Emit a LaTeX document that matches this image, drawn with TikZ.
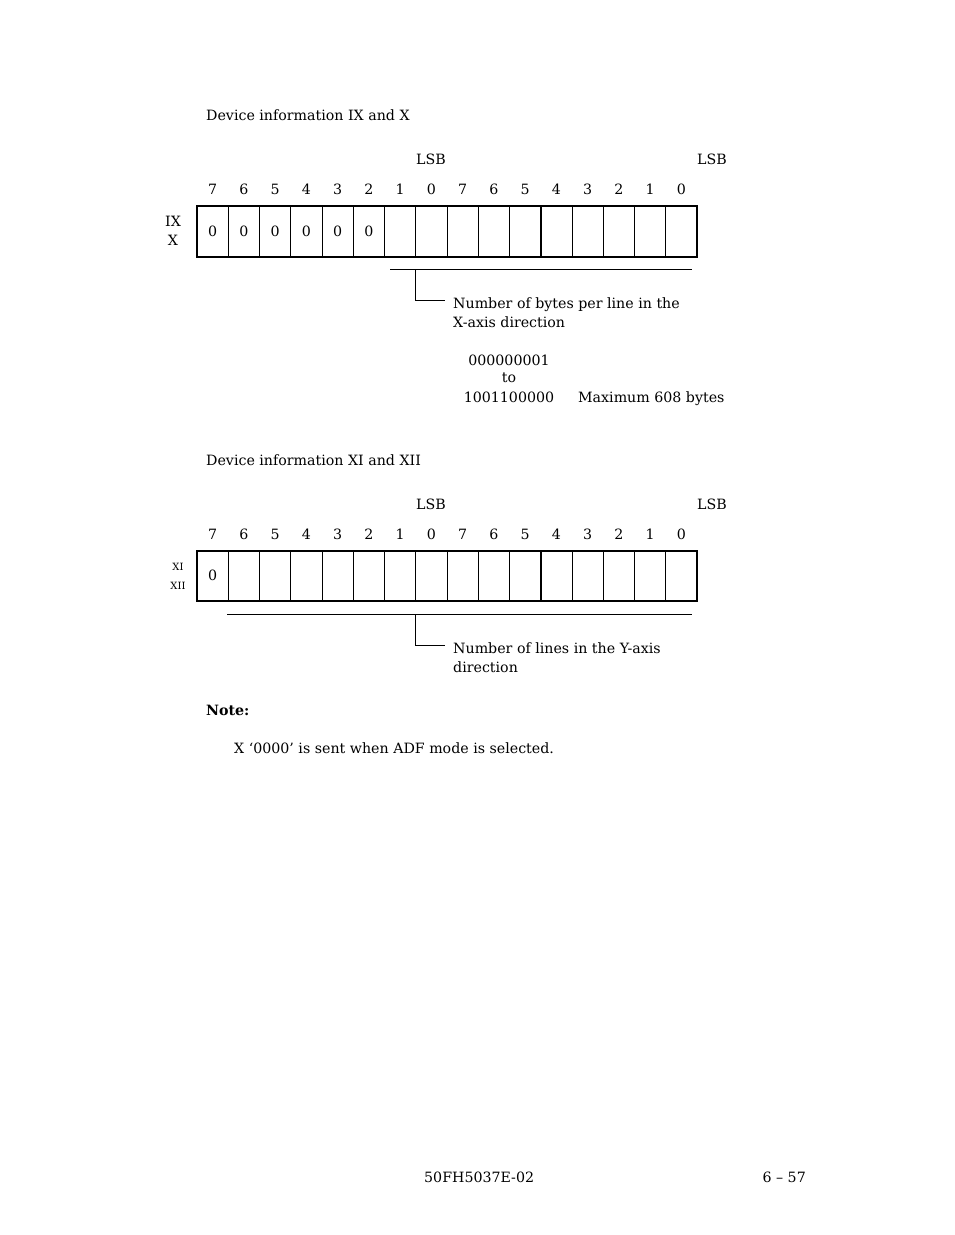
\documentclass[tikz,border=0pt]{standalone}
\usepackage{fontspec}
\setmainfont{DejaVu Serif}
\begin{document}
\begin{tikzpicture}[x=1pt,y=-1pt,
  txt/.style={inner sep=0pt, font=\fontsize{14.2}{17}\selectfont},
  lbl/.style={txt, anchor=base west},
  num/.style={txt, anchor=base},
  small/.style={inner sep=0pt, font=\fontsize{10}{12}\selectfont, anchor=base},
  frame/.style={line width=1.5pt},
  cellline/.style={line width=0.8pt},
  rule/.style={line width=0.8pt}]
\useasboundingbox (0,0) rectangle (954,1235);

% ---------- Section 1 ----------
\node[lbl] (t1) at (206,120) {Device information IX and X};
\node[txt, anchor=base] (lsb1a) at (431,164) {LSB};
\node[txt, anchor=base] (lsb1b) at (712,164) {LSB};
\foreach \b [count=\i from 0] in {7,6,5,4,3,2,1,0,7,6,5,4,3,2,1,0}
  \node[num] (ba\i) at (212.6+31.25*\i,194.5) {\b};
\node[num] (ix) at (173,226.5) {IX};
\node[num] (x) at (173,245.5) {X};
\foreach \i in {1,...,15}
  \draw[cellline] (197+31.25*\i,206) -- (197+31.25*\i,257);
\draw[frame] (540.75,206) -- (540.75,257);
\draw[frame] (197,206) rectangle (697,257);
\foreach \i in {0,...,5}
  \node[num] (za\i) at (212.6+31.25*\i,236.5) {0};

\coordinate (ra1) at (390,269);
\coordinate (ra2) at (692,269);
\coordinate (ta) at (415,269);
\draw[rule] (ra1) -- (ra2);
\node[lbl] (na1) at (453,308) {Number of bytes per line in the};
\node[lbl] (na2) at (453,327) {X-axis direction};
\coordinate (ea) at (445,300);
\draw[rule] (ta) |- (ea);

\node[txt, anchor=base] (r1) at (509,365) {000000001};
\node[txt, anchor=base] (r2) at (509,382) {to};
\node[txt, anchor=base] (r3) at (509,402) {1001100000};
\node[lbl] (mx) at (578,402) {Maximum 608 bytes};

% ---------- Section 2 ----------
\node[lbl] (t2) at (206,465) {Device information XI and XII};
\node[txt, anchor=base] (lsb2a) at (431,509) {LSB};
\node[txt, anchor=base] (lsb2b) at (712,509) {LSB};
\foreach \b [count=\i from 0] in {7,6,5,4,3,2,1,0,7,6,5,4,3,2,1,0}
  \node[num] (bb\i) at (212.6+31.25*\i,539.5) {\b};
\node[small] (xi) at (178,570) {XI};
\node[small] (xii) at (178,589) {XII};
\foreach \i in {1,...,15}
  \draw[cellline] (197+31.25*\i,551) -- (197+31.25*\i,601);
\draw[frame] (540.75,551) -- (540.75,601);
\draw[frame] (197,551) rectangle (697,601);
\node[num] (zb0) at (212.6,580.5) {0};

\coordinate (rb1) at (227,614);
\coordinate (rb2) at (692,614);
\coordinate (tb) at (415,614);
\draw[rule] (rb1) -- (rb2);
\node[lbl] (nb1) at (453,653) {Number of lines in the Y-axis};
\node[lbl] (nb2) at (453,672) {direction};
\coordinate (eb) at (445,645);
\draw[rule] (tb) |- (eb);

% ---------- Note ----------
\node[lbl, font=\fontsize{14.2}{17}\selectfont\bfseries] (note) at (206,715) {Note:};
\node[lbl] (nt) at (234,753) {X ‘0000’ is sent when ADF mode is selected.};

% ---------- Footer ----------
\node[lbl] (f1) at (424,1182) {50FH5037E-02};
\node[txt, anchor=base east] (f2) at (806,1182) {6 – 57};
\end{tikzpicture}
\end{document}
